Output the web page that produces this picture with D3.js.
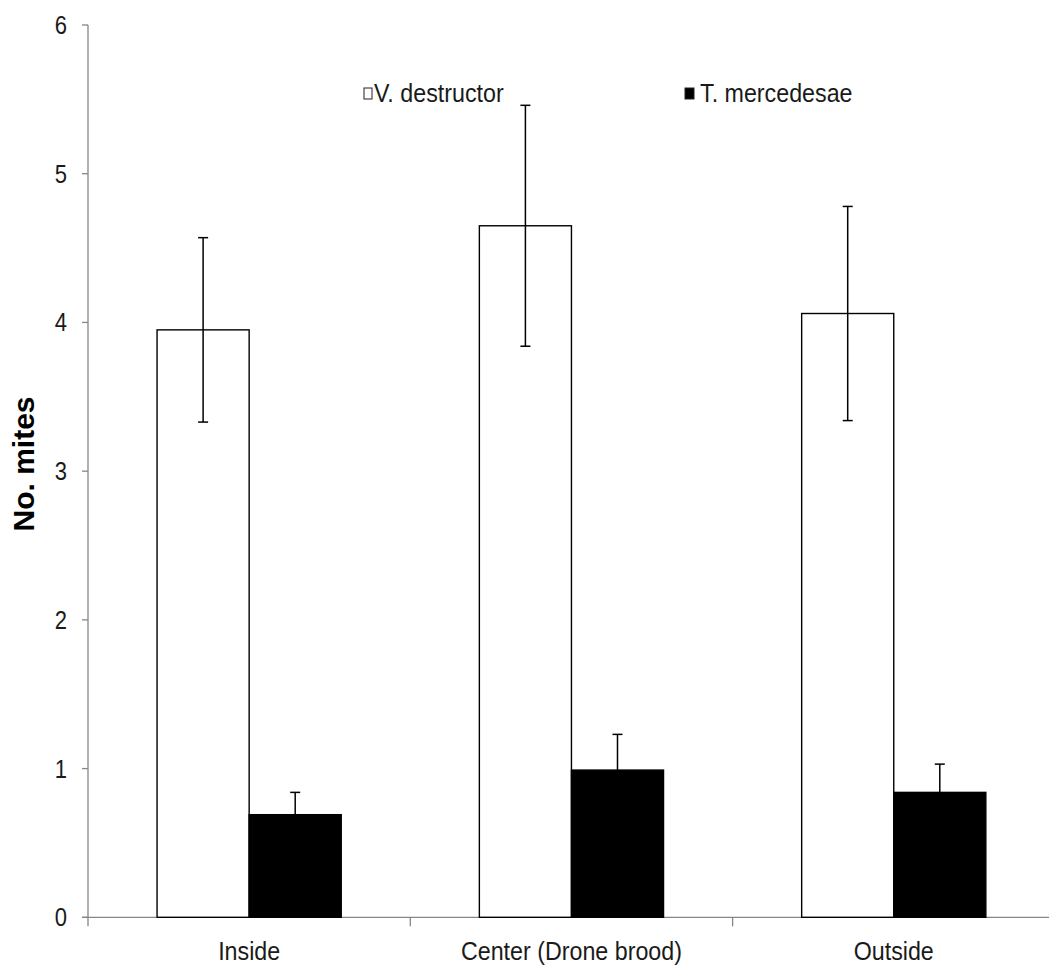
<!DOCTYPE html>
<html>
<head>
<meta charset="utf-8">
<script src="https://cdn.jsdelivr.net/npm/d3@7"></script>
<style>
  html, body { margin: 0; padding: 0; background: #fff; }
  svg { display: block; }
  .narrow { font-family: "Liberation Sans Narrow", "Arial Narrow", "Liberation Sans", sans-serif; fill: #1a1a1a; }
</style>
</head>
<body>
<div id="chart"></div>
<script>
// Mean mites per cell position, with error bars (mean ± SE)

const categories = ['Inside', 'Center (Drone brood)', 'Outside'];
const series = ['V. destructor', 'T. mercedesae'];
const vDestructor = [3.95, 4.65, 4.06];
const vDestructorErr = [0.62, 0.81, 0.72];
const tMercedesae = [0.69, 0.99, 0.84];
const tMercedesaeErr = [0.15, 0.24, 0.19];
const yTicks = [0, 1, 2, 3, 4, 5, 6];

const W = 1049, H = 967;
const mLeft = 88, mTop = 25, mBottom = 917.3;
const band = 322.3;
const FS = 25;

const rows = categories.flatMap((c, i) => [
  { cat: c, s: series[0], v: vDestructor[i], e: vDestructorErr[i] },
  { cat: c, s: series[1], v: tMercedesae[i], e: tMercedesaeErr[i] },
]);

const svg = d3.select('#chart').append('svg')
  .attr('width', W).attr('height', H);

// no narrow font installed: squeeze the regular one a bit
function condense(sel, k = 0.93) {
  sel.each(function () {
    const len = this.getComputedTextLength();
    d3.select(this).attr('textLength', len * k).attr('lengthAdjust', 'spacingAndGlyphs');
  });
}

const x0 = d3.scaleBand().domain(categories)
  .range([mLeft, mLeft + band * categories.length]);
// Excel-style 150% gap width -> outer padding 0.75 of a bar
const x1 = d3.scaleBand().domain(series)
  .range([0, x0.bandwidth()]).paddingInner(0).paddingOuter(0.75);
const y = d3.scaleLinear().domain([0, 6]).range([mBottom, mTop]);
const fill = d3.scaleOrdinal().domain(series).range(['#fff', '#000']);

const axisColor = '#868686';

// y axis
const gy = svg.append('g').attr('transform', `translate(${mLeft},0)`);
gy.append('line').attr('x1', 0).attr('x2', 0)
  .attr('y1', y(6)).attr('y2', mBottom + 9)
  .attr('stroke', axisColor).attr('stroke-width', 1.3);
gy.selectAll('.tk').data(yTicks).join('line')
  .attr('x1', -6).attr('x2', 0)
  .attr('y1', (d) => y(d)).attr('y2', (d) => y(d))
  .attr('stroke', axisColor).attr('stroke-width', 1.3);
gy.selectAll('text').data(yTicks).join('text')
  .attr('class', 'narrow')
  .attr('x', -21).attr('y', (d) => y(d))
  .attr('dy', '0.36em').attr('text-anchor', 'end')
  .attr('font-size', FS)
  .text((d) => d)
  .call(condense, 0.88);

// x axis
const gx = svg.append('g');
gx.append('line').attr('x1', mLeft - 6).attr('x2', x0.range()[1])
  .attr('y1', mBottom).attr('y2', mBottom)
  .attr('stroke', axisColor).attr('stroke-width', 1.3);
const bounds = categories.map((c) => x0(c)).slice(1).concat([x0.range()[1]]);
gx.selectAll('.tk').data(bounds).join('line')
  .attr('x1', (d) => d).attr('x2', (d) => d)
  .attr('y1', mBottom).attr('y2', mBottom + 9)
  .attr('stroke', axisColor).attr('stroke-width', 1.3);
gx.selectAll('text').data(categories).join('text')
  .attr('class', 'narrow')
  .attr('x', (d) => x0(d) + x0.bandwidth() / 2)
  .attr('y', 960)
  .attr('text-anchor', 'middle')
  .attr('font-size', FS)
  .text((d) => d)
  .call(condense);

// bars
svg.append('g').selectAll('rect').data(rows).join('rect')
  .attr('x', (d) => x0(d.cat) + x1(d.s))
  .attr('y', (d) => y(d.v))
  .attr('width', x1.bandwidth())
  .attr('height', (d) => y(0) - y(d.v))
  .attr('fill', (d) => fill(d.s))
  .attr('stroke', '#000').attr('stroke-width', 1.4);

// error bars
const eb = svg.append('g').attr('stroke', '#000').attr('stroke-width', 1.5);
const cx = (d) => x0(d.cat) + x1(d.s) + x1.bandwidth() / 2;
eb.selectAll('.v').data(rows).join('line')
  .attr('x1', cx).attr('x2', cx)
  .attr('y1', (d) => y(d.v + d.e)).attr('y2', (d) => y(d.v - d.e));
eb.selectAll('.cap').data(rows.flatMap((d) => [
  { d, val: d.v + d.e }, { d, val: d.v - d.e }]))
  .join('line')
  .attr('x1', (p) => cx(p.d) - 5).attr('x2', (p) => cx(p.d) + 5)
  .attr('y1', (p) => y(p.val)).attr('y2', (p) => y(p.val));

// y label
svg.append('text')
  .attr('transform', `translate(34,464) rotate(-90)`)
  .attr('text-anchor', 'middle')
  .attr('font-family', '"Liberation Sans", Arial, sans-serif')
  .attr('font-weight', 'bold').attr('font-size', 30)
  .attr('fill', '#000')
  .text('No. mites');

// legend
const legend = [
  { s: series[0], x: 364, w: 8, gap: 2 },
  { s: series[1], x: 685, w: 9, gap: 6 },
];
const lg = svg.append('g');
lg.selectAll('rect').data(legend).join('rect')
  .attr('x', (d) => d.x).attr('y', 88)
  .attr('width', (d) => d.w).attr('height', 11)
  .attr('fill', (d) => fill(d.s))
  .attr('stroke', '#222').attr('stroke-width', 1);
lg.selectAll('text').data(legend).join('text')
  .attr('class', 'narrow')
  .attr('x', (d) => d.x + d.w + d.gap).attr('y', 102)
  .attr('font-size', FS)
  .text((d) => d.s)
  .call(condense);
</script>
</body>
</html>
